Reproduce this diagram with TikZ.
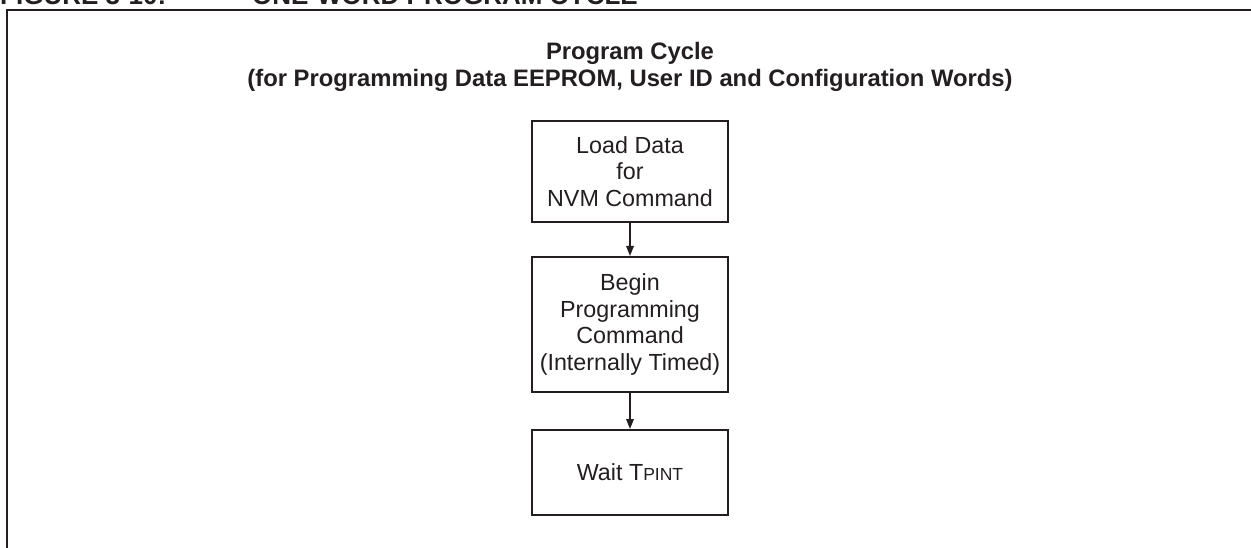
\documentclass[tikz,border=0pt]{standalone}
\usepackage{fontspec}
\setmainfont{Liberation Sans}
\usetikzlibrary{arrows.meta}
\definecolor{ink}{HTML}{231F20}
\begin{document}
\begin{tikzpicture}[x=1pt,y=-1pt,
  stepbox/.style={draw=ink, line width=2pt, minimum width=196pt, align=center,
    text=ink, font=\fontsize{23.3}{26.5}\selectfont, inner sep=0pt},
  titletext/.style={text=ink, font=\bfseries\fontsize{23.8}{27}\selectfont, inner sep=0pt, anchor=base},
  captext/.style={text=ink, font=\bfseries\fontsize{26}{30}\selectfont, inner sep=0pt, anchor=base west},
  flow/.style={draw=ink, line width=1.6pt, -{Triangle[length=10pt,width=7.5pt]}},
  frame/.style={draw=ink, line width=2pt}]
\useasboundingbox (0,0) rectangle (1251,548);
\fill[white] (0,0) rectangle (1251,548);
\clip (0,0) rectangle (1251,548);
% cropped caption (only its lower edge lies inside the picture)
\node[captext] (capA) at (0,4.5) {FIGURE 3-10:};
\node[captext] (capB) at (252,4.5) {ONE-WORD PROGRAM CYCLE};
% frame
\coordinate (fbl) at (7,560);
\coordinate (ftl) at (7,10);
\coordinate (ftr) at (1265,10);
\draw[frame] (fbl) -- (ftl) -- (ftr);
% title
\node[titletext] (t1) at (630,60) {Program Cycle};
\node[titletext] (t2) at (630,87) {(for Programming Data EEPROM, User ID and Configuration Words)};
% boxes
\node[stepbox, minimum height=101pt] (load) at (630,171.5) {Load Data\\for\\NVM Command};
\node[stepbox, minimum height=135pt] (begin) at (630,324.5) {Begin\\Programming\\Command\\(Internally Timed)};
\node[stepbox, minimum height=85pt] (wait) at (630,472.5) {Wait T{\fontsize{17.5}{20}\selectfont PINT}};
% connectors
\draw[flow] (load) -- (begin);
\draw[flow] (begin) -- (wait);
\end{tikzpicture}
\end{document}
